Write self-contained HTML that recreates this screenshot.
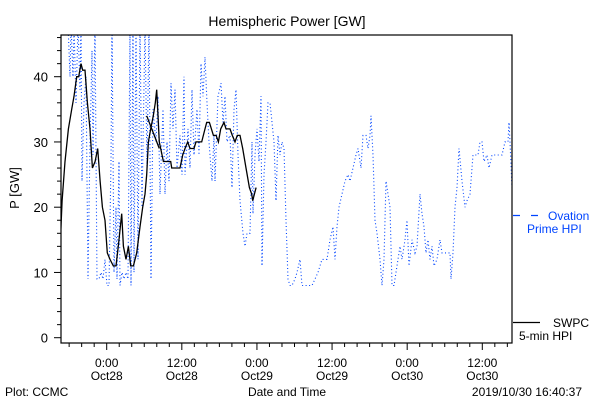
<!DOCTYPE html>
<html><head><meta charset="utf-8"><style>
html,body{margin:0;padding:0;background:#fff;}
svg{display:block;font-family:"Liberation Sans",sans-serif;}
</style></head><body>
<svg id="chart" width="600" height="400" viewBox="0 0 600 400" xmlns="http://www.w3.org/2000/svg">
<rect x="0" y="0" width="600" height="400" fill="#fff"/>
<text x="287" y="26" font-size="14" text-anchor="middle" fill="#000">Hemispheric Power [GW]</text>
<text x="0" y="0" font-size="13" text-anchor="middle" fill="#000" transform="translate(19,188) rotate(-90)">P [GW]</text>
<text x="287" y="396" font-size="12" text-anchor="middle" fill="#000">Date and Time</text>
<text x="5" y="396" font-size="12" fill="#000">Plot: CCMC</text>
<text x="582" y="396" font-size="12" text-anchor="end" fill="#000">2019/10/30 16:40:37</text>
<defs><clipPath id="clip"><rect x="61" y="35" width="451" height="308"/></clipPath></defs>
<g id="axes"></g>
<g id="series" clip-path="url(#clip)"></g>
<rect x="61" y="35" width="451" height="308" fill="none" stroke="#000" stroke-width="1.2"/>
<g>
<line x1="513" y1="215.5" x2="540" y2="215.5" stroke="#0044ff" stroke-width="1.2" stroke-dasharray="7,11"/>
<text x="548" y="220" font-size="12" fill="#0044ff">Ovation</text>
<text x="527" y="233" font-size="12" fill="#0044ff">Prime HPI</text>
<line x1="513" y1="322.5" x2="540" y2="322.5" stroke="#000" stroke-width="1.2"/>
<text x="553" y="327" font-size="12" fill="#000">SWPC</text>
<text x="519" y="340" font-size="12" fill="#000">5-min HPI</text>
</g>
</svg>
<script>
const yTicks = [0, 10, 20, 30, 40];
const xTickHours = [0, 12, 24, 36, 48, 60];
const xTickTimes = ["0:00", "12:00", "0:00", "12:00", "0:00", "12:00"];
const xTickDates = ["Oct28", "Oct28", "Oct29", "Oct29", "Oct30", "Oct30"];
// hours relative to Oct28 0:00
const swpcHours = [-7.4,-7.13,-6.66,-6.12,-5.59,-5.22,-4.79,-4.47,-4.1,-3.83,-3.46,-3.09,-2.66,-2.29,-1.86,-1.44,-1.06,-0.69,-0.27,0.1,0.53,1.06,1.49,1.86,2.4,2.66,3.09,3.46,3.83,4.26,4.79,5.32,5.75,6.12,6.39,6.66,7.03,7.45,7.77,7.99,8.41,9.05,10.22,10.38,11.71,12.14,12.51,12.94,13.31,13.95,14.27,15.18,15.71,15.97,16.4,17.04,17.47,17.84,18.21,18.74,19.06,19.7,20.07,20.5,20.87,21.3,21.73,22.26,22.79,23.16,23.32,23.59,23.86];
const swpcValues = [15,21,27,32,35,37,40,40,42,41,41,36,32,26,27,29,24,20,18,13,12,11,11,14,19,14,12,14,11,11,13,17,20,22,25,30,32,34,36,38,30,27,27,26,26,28,29,30,29,29,30,30,32,33,33,31,31,30,32,33,32,32,31,30,31,31,29,26,23,22,21,22,23];
const swpc2Hours = [6.39, 8.41];
const swpc2Values = [34, 29];
const ovationHours = [-6.18,-5.86,-5.7,-5.38,-5.22,-4.9,-4.58,-4.27,-4.11,-3.95,-3.63,-3.31,-2.99,-2.67,-2.35,-2.19,-1.87,-1.55,-1.23,-0.91,-0.59,-0.27,0.05,0.37,0.69,0.85,1.17,1.49,1.65,1.96,2.12,2.44,2.76,3.08,3.4,3.72,3.88,4.2,4.36,4.68,5.0,5.32,5.64,6.12,6.44,6.76,7.08,7.4,7.88,8.19,8.51,8.99,9.31,9.63,9.95,10.27,10.59,10.91,11.23,11.71,12.03,12.35,12.51,12.99,13.31,13.63,13.95,14.42,14.74,15.06,15.38,15.7,16.02,16.34,16.82,17.14,17.3,17.78,18.26,18.58,18.9,19.22,19.7,20.02,20.34,20.65,20.97,21.29,21.77,22.09,22.41,22.89,23.21,23.37,23.69,24.01,24.33,24.65,24.81,25.13,25.45,25.77,26.09,26.41,26.73,27.04,27.36,27.68,28.0,28.32,28.64,28.96,29.28,29.6,30.08,30.4,30.88,31.2,31.68,32.8,33.27,33.75,34.39,35.19,35.67,36.15,36.47,36.79,37.11,37.59,38.07,38.55,38.87,39.35,39.83,40.14,40.62,40.94,41.42,41.74,42.06,42.22,42.54,42.86,43.18,43.66,43.98,44.3,44.62,44.94,45.26,45.58,45.89,46.37,46.85,47.17,47.65,47.97,48.29,48.77,49.25,49.57,50.05,50.37,50.69,51.01,51.33,51.65,51.96,52.28,52.76,53.24,53.56,54.84,55.0,55.32,55.64,55.96,56.28,56.76,57.24,57.56,58.04,58.52,59.31,59.63,59.95,60.27,60.75,61.07,61.55,63.15,63.63,64.11,64.27,64.43,64.75];
const ovationValues = [48,40,48,40,48,36,48,38,48,24,36,40,9,30,44,28,48,9,9,10,9,12,8,8,27,48,10,20,9,27,8,10,9,10,9,48,8,48,10,48,12,48,20,48,26,48,9,35,30,37,22,35,22,30,24,39,32,38,26,31,25,40,25,32,26,38,28,35,28,42,37,43,36,30,24,31,24,37,39,33,37,30,31,23,35,38,28,21,16,14,16,16,30,19,28,32,27,37,11,25,30,36,36,33,30,21,31,28,30,29,18,9,8,8,9,10,12,8,8,8,9,10,12,12,15,17,12,17,20,22,24,25,24,26,28,29,26,31,31,29,31,34,28,18,16,12,8,12,24,22,20,8,8,11,14,12,15,18,11,15,13,14,22,19,17,13,15,12,14,11,12,15,13,13,9,13,20,23,29,24,20,21,22,28,28,30,30,27,28,26,28,28,30,30,33,30,23];

const X0 = 106.7, PXH = 6.26, Y0 = 337.7, PXV = 6.525;
function xs(h){ return X0 + h*PXH; }
function ys(v){ return Y0 - v*PXV; }
const NS = "http://www.w3.org/2000/svg";
const axes = document.getElementById('axes');
const series = document.getElementById('series');
function mk(tag, attrs, parent){ const e=document.createElementNS(NS,tag); for(const k in attrs) e.setAttribute(k,attrs[k]); parent.appendChild(e); return e; }

for (let v=0; v<=46; v+=2){
  const major = v%10===0;
  const t = mk('line',{x1:61-(major?7:4),x2:61,y1:ys(v),y2:ys(v),stroke:'#000','stroke-width':1},axes);
  
  
}
yTicks.forEach(v=>{
  const t = mk('text',{x:48,y:ys(v)+5,'font-size':13,'text-anchor':'end',fill:'#000'},axes);
  t.textContent = String(v);
  
  
});
for (let h=-6; h<=64; h+=2){
  const major = (h%12===0);
  const t = mk('line',{x1:xs(h),x2:xs(h),y1:343,y2:343+(major?7:4),stroke:'#000','stroke-width':1},axes);
  
  
}
xTickHours.forEach((h,i)=>{
  const t1 = mk('text',{x:xs(h),y:367,'font-size':12,'text-anchor':'middle',fill:'#000'},axes);
  t1.textContent = xTickTimes[i];
  
  
  const t2 = mk('text',{x:xs(h),y:380,'font-size':12,'text-anchor':'middle',fill:'#000'},axes);
  t2.textContent = xTickDates[i];
  
  
});

function pts(hs, vs){ return hs.map((h,i)=>xs(h).toFixed(1)+','+ys(vs[i]).toFixed(1)).join(' '); }
const ov = mk('polyline',{points:pts(ovationHours,ovationValues),fill:'none',stroke:'#0044ff','stroke-width':1.1,'stroke-dasharray':'1,2.5'},series);


const sw = mk('polyline',{points:pts(swpcHours,swpcValues),fill:'none',stroke:'#000','stroke-width':1.3},series);


const sw2 = mk('polyline',{points:pts(swpc2Hours,swpc2Values),fill:'none',stroke:'#000','stroke-width':1.3},series);


</script>
</body></html>
